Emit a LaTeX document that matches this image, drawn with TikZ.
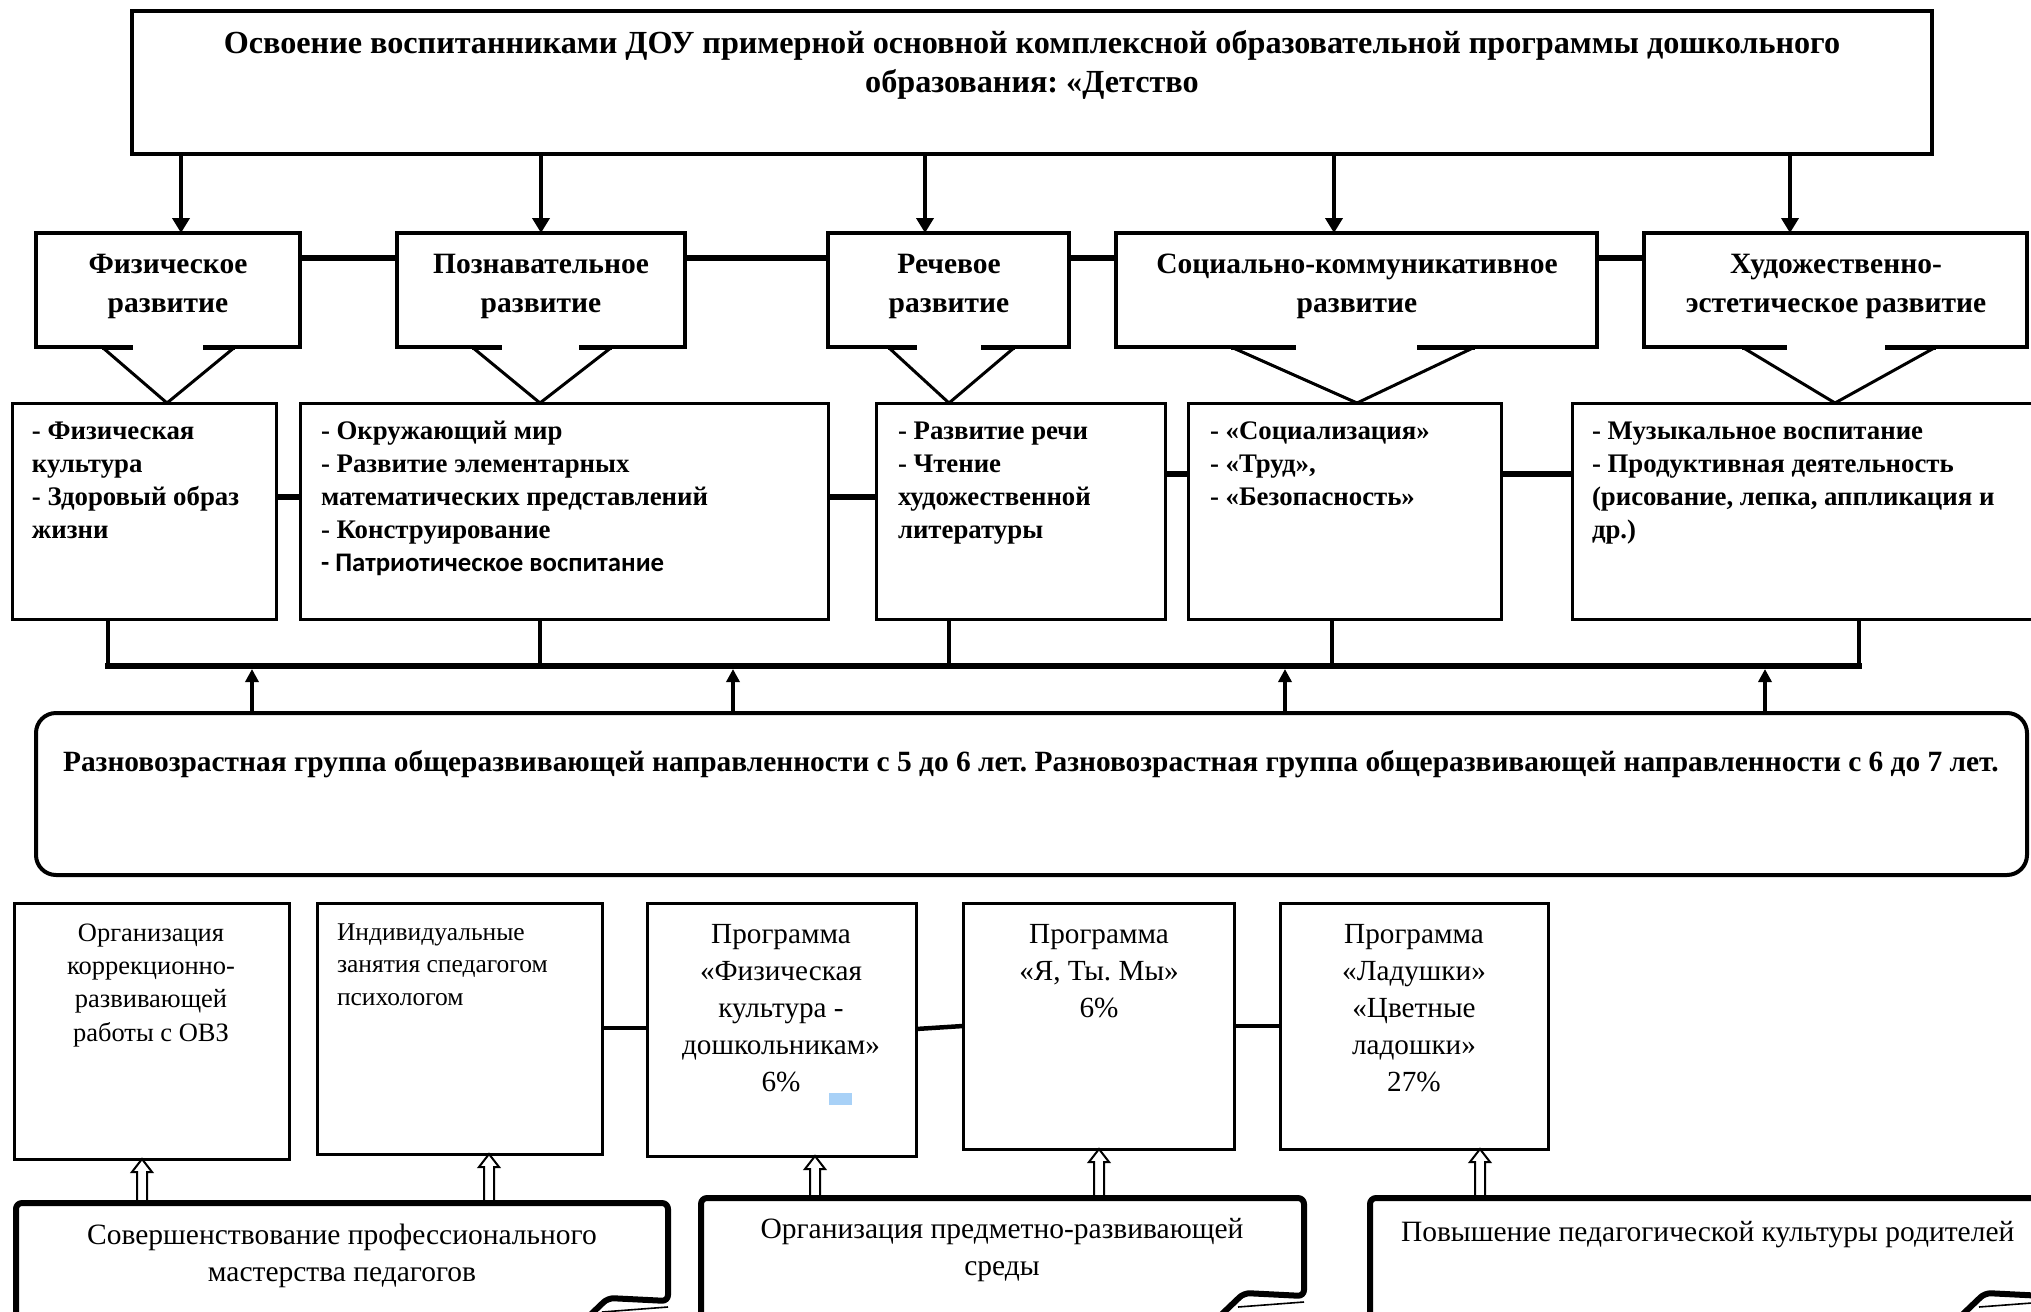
\documentclass[tikz,border=0pt]{standalone}
\usepackage{fontspec}
\setmainfont{Liberation Serif}
\newfontfamily\calibfont{Carlito}
\usetikzlibrary{arrows.meta,calc}
\definecolor{selblue}{HTML}{A8D1F7}
\frenchspacing

\newcommand\pxbox[6]{%
  \node[#6, minimum width={(#4-#2)*0.5pt}, minimum height={(#5-#3)*0.5pt}] (#1) at ({(#2+#4)/2},{(#3+#5)/2}) {};}
\newcommand\callout[7]{%
  \draw[white, line width=2.6pt] (#1.south -| #4,0) -- (#1.south -| #5,0);
  \draw[line width=1.5pt] (#1.south -| #3,0) -- (#2.north -| #7,0) -- (#1.south -| #6,0);
  \draw[line width=2.5pt] (#1.south -| #3,0) -- (#1.south -| #4,0) (#1.south -| #5,0) -- (#1.south -| #6,0);}
\newcommand\hollow[3]{%
  \draw[hollowarr] ($(#2.north -| #1,0)+(-5,0)$) -- ($(#3.south -| #1,0)+(-5,13)$) -- ++(-5,0) -- (#3.south -| #1,0) -- ++(10,13) -- ++(-5,0) -- ($(#2.north -| #1,0)+(5,0)$) -- cycle;}
\newcommand\scrollcurl[1]{%
  \draw[scrollline, rounded corners=3pt] ($(#1.north west)+(0,140)$) -- (#1.north west) -- (#1.north east) -- ($(#1.north east)+(0,98)$) -- ($(#1.north east)+(-60,95)$) -- ($(#1.north east)+(-82,116)$);
  \draw[line width=0.8pt] ($(#1.north east)+(0,104)$) -- ($(#1.north east)+(-66,109)$);}

\tikzset{
  frame/.style={draw, inner sep=0pt, outer sep=0pt, line width=1.5pt, fill=white},
  topframe/.style={frame, line width=2pt},
  dirframe/.style={frame, line width=1.75pt},
  linkthick/.style={line width=3pt},
  linkmid/.style={line width=2.25pt},
  drop/.style={line width=2pt},
  bus/.style={line width=2.75pt, line cap=rect},
  downarr/.style={line width=2pt, -{Triangle[width=8.5pt,length=7.5pt]}},
  uparr/.style={line width=2pt, -{Triangle[width=6.5pt,length=6.5pt]}},
  hollowarr/.style={draw, fill=white, line width=1pt, line join=miter},
  scrollline/.style={line width=3pt, line join=round},
  txt/.style={inner sep=0pt, outer sep=0pt},
  ttop/.style={txt, font=\fontsize{16.1}{19.5}\selectfont\bfseries, align=center},
  tdir/.style={txt, font=\fontsize{14.75}{19.5}\selectfont\bfseries, align=center},
  tsub/.style={txt, font=\fontsize{13.4}{16.5}\selectfont\bfseries, align=left},
  tgrp/.style={txt, font=\fontsize{14.7}{16.5}\selectfont\bfseries},
  tA/.style={txt, font=\fontsize{13.25}{16.6}\selectfont, align=center},
  tB/.style={txt, font=\fontsize{12.75}{16.25}\selectfont, align=left},
  tC/.style={txt, font=\fontsize{14.6}{18.5}\selectfont, align=center},
  tF/.style={txt, font=\fontsize{14.75}{18.5}\selectfont, align=center},
}

\begin{document}
\begin{tikzpicture}[x=0.5pt,y=-0.5pt]
\useasboundingbox (0,0) rectangle (2031,1312);
\clip (0,0) rectangle (2031,1312);

% ---------- top ----------
\pxbox{top}{132}{11}{1932}{154}{topframe}
\node[ttop, anchor=base] (toptxt) at (1032,92) {Освоение воспитанниками ДОУ примерной основной комплексной образовательной программы дошкольного\\образования: «Детство};

% ---------- level 2 ----------
\pxbox{fiz}{36}{233}{300}{347}{dirframe}
\pxbox{pozn}{397}{233}{685}{347}{dirframe}
\pxbox{rech}{828}{233}{1069}{347}{dirframe}
\pxbox{soc}{1116}{233}{1597}{347}{dirframe}
\pxbox{hud}{1644}{233}{2027}{347}{dirframe}
\node[tdir, anchor=base] (fiz-t) at (168,312) {Физическое\\развитие};
\node[tdir, anchor=base] (pozn-t) at (541,312) {Познавательное\\развитие};
\node[tdir, anchor=base] (rech-t) at (949,312) {Речевое\\развитие};
\node[tdir, anchor=base] (soc-t) at (1357,312) {Социально-коммуникативное\\развитие};
\node[tdir, anchor=base] (hud-t) at (1836,312) {Художественно-\\эстетическое развитие};

\foreach \n/\x in {fiz/181,pozn/541,rech/925,soc/1334,hud/1790}
  \draw[downarr] (top.south -| \x,0) -- (\n.north -| \x,0);

\draw[linkthick] (fiz.east |- 0,258) -- (pozn.west |- 0,258);
\draw[linkthick] (pozn.east |- 0,258) -- (rech.west |- 0,258);
\draw[linkthick] (rech.east |- 0,258) -- (soc.west |- 0,258);
\draw[linkthick] (soc.east |- 0,258) -- (hud.west |- 0,258);

% ---------- level 3 ----------
\pxbox{fizk}{12}{403}{276}{619}{frame}
\pxbox{okr}{300}{403}{828}{619}{frame}
\pxbox{rechr}{876}{403}{1165}{619}{frame}
\pxbox{socz}{1188}{403}{1501}{619}{frame}
\pxbox{muz}{1572}{403}{2060}{619}{frame}

\callout{fiz}{fizk}{102}{133}{203}{235}{167}
\callout{pozn}{okr}{472}{502}{579}{612}{540}
\callout{rech}{rechr}{888}{917}{981}{1015}{949}
\callout{soc}{socz}{1231}{1296}{1417}{1475}{1357}
\callout{hud}{muz}{1742}{1787}{1885}{1936}{1835}

\node[tsub, anchor=base west] (fizk-t) at (32,538) {- Физическая\\культура\\- Здоровый образ\\жизни};
\node[tsub, anchor=base west] (okr-t) at (321,571) {- Окружающий мир\\- Развитие элементарных\\математических представлений\\- Конструирование\\{\calibfont\bfseries - Патриотическое воспитание}};
\node[tsub, anchor=base west] (rechr-t) at (898,538) {- Развитие речи\\- Чтение\\художественной\\литературы};
\node[tsub, anchor=base west] (socz-t) at (1210,505) {- «Социализация»\\- «Труд»,\\- «Безопасность»};
\node[tsub, anchor=base west] (muz-t) at (1592,538) {- Музыкальное воспитание\\- Продуктивная деятельность\\(рисование, лепка, аппликация и\\др.)};

\draw[linkthick] (fizk.east |- 0,497) -- (okr.west |- 0,497);
\draw[linkthick] (okr.east |- 0,497) -- (rechr.west |- 0,497);
\draw[linkthick] (rechr.east |- 0,474) -- (socz.west |- 0,474);
\draw[linkthick] (socz.east |- 0,474) -- (muz.west |- 0,474);

% ---------- bus ----------
\coordinate (busL) at (108,666);
\coordinate (busR) at (1859,666);
\foreach \n/\x in {fizk/108,okr/540,rechr/949,socz/1332,muz/1859}
  \draw[drop] (\n.south -| \x,0) -- (\x,0 |- busL);
\draw[bus] (busL) -- (busR);

% ---------- group box ----------
\pxbox{grp}{36}{713}{2027}{875}{frame, line width=2pt, rounded corners=10pt}
\node[tgrp, anchor=base] (grp-t) at (1031,771) {Разновозрастная группа общеразвивающей направленности с 5 до 6 лет. Разновозрастная группа общеразвивающей направленности с 6 до 7 лет.};
\foreach \x in {252,733,1285,1765}
  \draw[uparr] (grp.north -| \x,0) -- ($(\x,0 |- busL)+(0,3)$);

% ---------- bottom boxes ----------
\pxbox{bA}{14}{903}{289}{1159}{frame}
\pxbox{bB}{317}{903}{602}{1154}{frame}
\pxbox{bC}{647}{903}{916}{1156}{frame}
\pxbox{bD}{963}{903}{1234}{1149}{frame}
\pxbox{bE}{1280}{903}{1548}{1149}{frame}
\pxbox{sel}{829}{1093}{852}{1105}{fill=selblue, inner sep=0pt, outer sep=0pt}

\node[tA, anchor=base] (bA-t) at (151,1041) {Организация\\коррекционно-\\развивающей\\работы с ОВЗ};
\node[tB, anchor=base west] (bB-t) at (337,1005) {Индивидуальные\\занятия спедагогом\\психологом};
\node[tC, anchor=base] (bC-t) at (781,1091) {Программа\\«Физическая\\культура -\\дошкольникам»\\6\%};
\node[tC, anchor=base] (bD-t) at (1099,1017) {Программа\\«Я, Ты. Мы»\\6\%};
\node[tC, anchor=base] (bE-t) at (1414,1091) {Программа\\«Ладушки»\\«Цветные\\ладошки»\\27\%};

\draw[linkmid] (bB.east |- 0,1028) -- (bC.west |- 0,1028);
\draw[linkmid] (bC.east |- 0,1029) -- (bD.west |- 0,1026);
\draw[linkmid] (bD.east |- 0,1026) -- (bE.west |- 0,1026);

% ---------- scrolls ----------
\pxbox{fA}{16}{1203}{668}{1345}{inner sep=0pt, outer sep=0pt}
\pxbox{fG}{701}{1198}{1304}{1345}{inner sep=0pt, outer sep=0pt}
\pxbox{fH}{1370}{1198}{2045}{1345}{inner sep=0pt, outer sep=0pt}

\hollow{142}{fA}{bA}
\hollow{489}{fA}{bB}
\hollow{815}{fG}{bC}
\hollow{1099}{fG}{bD}
\hollow{1480}{fH}{bE}

\scrollcurl{fA}
\scrollcurl{fG}
\scrollcurl{fH}

\node[tF, anchor=base] (fA-t) at (342,1281) {Совершенствование профессионального\\мастерства педагогов};
\node[tF, anchor=base] (fG-t) at (1002,1275) {Организация предметно-развивающей\\среды};
\node[tF, anchor=base west] (fH-t) at (1401,1241) {Повышение педагогической культуры родителей};
\end{tikzpicture}
\end{document}
